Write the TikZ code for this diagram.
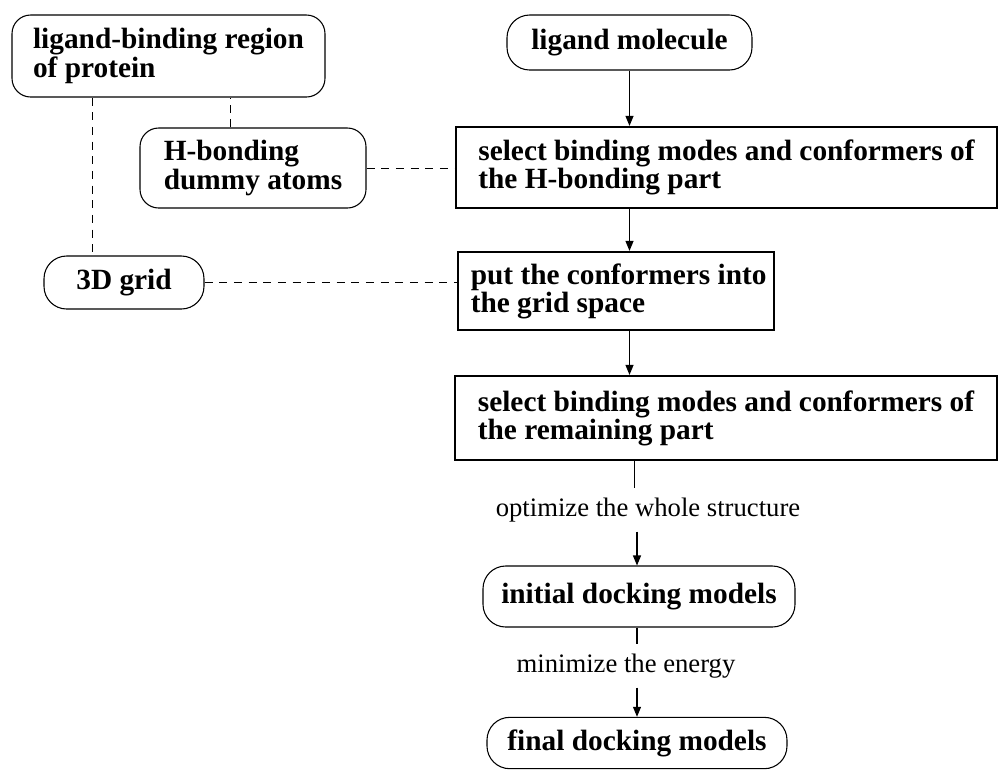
\documentclass[tikz,border=0pt]{standalone}
\usepackage{fontspec}
\setmainfont{Liberation Serif}
\usetikzlibrary{arrows.meta}
\begin{document}
\begin{tikzpicture}[x=0.75pt,y=-0.75pt,
  bt/.style={font=\fontsize{22}{19.5}\selectfont\bfseries},
  rbox/.style={draw, rounded corners=14pt, line width=0.8pt, inner sep=0pt, align=left, bt},
  pill/.style={rbox, rounded corners=17pt, align=center},
  sbox/.style={draw, line width=1.7pt, inner sep=0pt, align=left, bt},
  lbl/.style={font=\fontsize{20}{24}\selectfont, inner xsep=0pt, inner ysep=7pt},
  arr/.style={line width=0.8pt, -{Triangle[length=7.5pt,width=6pt]}},
  ln/.style={line width=0.8pt},
  dsh/.style={line width=0.7pt, dash pattern=on 6pt off 5pt}]
\useasboundingbox (0,0) rectangle (999,769);
\node[rbox, minimum width=234.75pt, minimum height=61.5pt] (lbr) at (168.5,56) {ligand-binding region\\of protein};
\node[pill, minimum width=183.75pt, minimum height=41.25pt] (lig) at (629.5,42.5) {ligand molecule};
\node[rbox, minimum width=169.5pt, minimum height=60pt] (hb) at (253,168) {H-bonding\\dummy atoms};
\node[sbox, minimum width=405.75pt, minimum height=60.75pt] (sel1) at (726.5,167.5) {select binding modes and conformers of\\the H-bonding part};
\node[pill, minimum width=120pt, minimum height=39.75pt] (grid) at (124,282.5) {3D grid};
\node[sbox, minimum width=237pt, minimum height=58.5pt] (put) at (616,291) {\hspace*{4pt}put the conformers into\\\hspace*{4pt}the grid space};
\node[sbox, minimum width=406.5pt, minimum height=63pt] (sel2) at (726,418) {select binding modes and conformers of\\the remaining part};
\node[lbl] (opt) at (648,510) {optimize the whole structure};
\node[pill, minimum width=234pt, minimum height=45.75pt] (init) at (639,596.5) {initial docking models};
\node[lbl] (min) at (626,666) {minimize the energy};
\node[pill, minimum width=225pt, minimum height=38.5pt] (fin) at (637,743) {final docking models};
% solid flow
\draw[arr] (lig.south) -- (lig.south |- sel1.north);
\draw[arr] (lig.south |- sel1.south) -- (lig.south |- put.north);
\draw[arr] (lig.south |- put.south) -- (lig.south |- sel2.north);
\draw[ln] ([xshift=-3.5pt]init.north |- sel2.south) -- ([xshift=-3.5pt]init.north |- opt.north);
\draw[arr] ([xshift=-1.5pt]init.north |- opt.south) -- ([xshift=-1.5pt]init.north);
\draw[ln] ([xshift=-1.5pt]init.south) -- ([xshift=-1.5pt]init.south |- min.north);
\draw[arr] ([xshift=-1.5pt]init.south |- min.south) -- ([xshift=-1.5pt]init.south |- fin.north);
% dashed relations
\draw[dsh] ([xshift=60.75pt]lbr.south west) -- ([xshift=60.75pt]lbr.south west |- grid.north);
\draw[dsh] ([xshift=68.25pt]hb.north west) -- ([xshift=68.25pt]hb.north west |- lbr.south);
\draw[dsh] (hb.east) -- (hb.east -| sel1.west);
\draw[dsh] (grid.east) -- (grid.east -| put.west);
\end{tikzpicture}
\end{document}
